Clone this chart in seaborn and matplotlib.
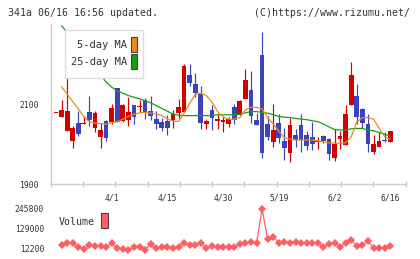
import numpy as np
import pandas as pd
import matplotlib
matplotlib.use("Agg")
import matplotlib.pyplot as plt
import seaborn as sns
from matplotlib.patches import Rectangle

# ---------------- data ----------------
opens = [2077, 2068, 2033, 2008, 2052, 2049, 2080, 2041, 2018, 2057,
         2056, 2140, 2057, 2060, 2097, 2092, 2110, 2082, 2062, 2055,
         2057, 2060, 2078, 2081, 2172, 2149, 2125, 2049, 2084, 2058,
         2056, 2051, 2092, 2074, 2112, 2135, 2060, 2222, 2050, 2006,
         2052, 2007, 1978, 2022, 2047, 2022, 2018, 2004, 2020, 2012,
         1966, 2012, 1997, 2097, 2120, 2087, 2050, 1981, 1993, 2008,
         2006]
closes = [2077, 2085, 2083, 2040, 2025, 2051, 2060, 2077, 2035, 2016,
          2090, 2056, 2097, 2079, 2068, 2093, 2077, 2071, 2049, 2039,
          2040, 2074, 2093, 2196, 2152, 2127, 2053, 2057, 2066, 2062,
          2059, 2062, 2061, 2107, 2160, 2069, 2048, 1978, 2018, 2035,
          2016, 1991, 2047, 2010, 2010, 1996, 2000, 2008, 2007, 1975,
          2000, 2020, 2075, 2172, 2068, 2053, 2000, 2000, 2007, 2007,
          2033]
highs = [2077, 2110, 2181, 2044, 2083, 2070, 2120, 2083, 2053, 2061,
         2100, 2141, 2101, 2118, 2098, 2110, 2114, 2121, 2083, 2064,
         2072, 2085, 2112, 2200, 2199, 2178, 2145, 2063, 2097, 2074,
         2068, 2068, 2099, 2110, 2188, 2182, 2077, 2281, 2071, 2099,
         2074, 2039, 2066, 2037, 2074, 2032, 2056, 2018, 2022, 2014,
         2037, 2032, 2097, 2206, 2149, 2089, 2074, 2022, 2031, 2029,
         2033]
lows = [2077, 2067, 2032, 1991, 2021, 2049, 2046, 2030, 1991, 2008,
        2050, 2055, 2056, 2046, 2049, 2081, 2062, 2061, 2037, 2032,
        2022, 2041, 2065, 2081, 2146, 2117, 2038, 2038, 2034, 2038,
        2031, 2043, 2051, 2073, 2112, 2053, 2047, 1966, 2010, 1993,
        2002, 1960, 1956, 1993, 1981, 1985, 1985, 1988, 2002, 1960,
        1957, 1988, 1997, 2097, 2049, 2039, 1981, 1975, 1993, 2004,
        2004]
ma5 = [np.nan, 2143, 2125, 2106, 2088, 2068, 2056, 2052, 2051, 2050,
       2053, 2056, 2062, 2069, 2074, 2078, 2079, 2077, 2075, 2071,
       2063, 2057, 2056, 2077, 2102, 2124, 2127, 2121, 2105, 2081,
       2068, 2062, 2062, 2066, 2085, 2092, 2092, 2088, 2066, 2050,
       2032, 2016, 2012, 2010, 2010, 2010, 2010, 2008, 2005, 2003,
       2002, 2002, 2003, 2018, 2055, 2066, 2066, 2062, 2040, 2018,
       2012]
ma25 = [np.nan, 2296, 2278, 2260, 2242, 2224, 2206, 2189, 2172, 2155,
        2142, 2133, 2127, 2121, 2117, 2113, 2108, 2103, 2096, 2089,
        2082, 2075, 2072, 2071, 2071, 2071, 2071, 2071, 2071, 2073,
        2073, 2073, 2073, 2074, 2078, 2081, 2081, 2079, 2077, 2073,
        2069, 2067, 2066, 2064, 2062, 2061, 2058, 2056, 2050, 2043,
        2036, 2035, 2035, 2038, 2039, 2039, 2035, 2033, 2029, 2024,
        2020]
volume = [35500, 45500, 45500, 22100, 12200, 35500, 29700, 29700, 22100, 45500,
          16300, 12200, 8000, 22100, 22100, 8000, 41400, 16300, 22100, 22100,
          16300, 25600, 45500, 35500, 35500, 49000, 16300, 30000, 22100, 22100,
          25600, 25600, 39600, 45500, 55000, 45500, 245800, 70600, 84000, 49000,
          52000, 49000, 55000, 45500, 45500, 49000, 45500, 25600, 39600, 49000,
          25600, 45500, 64800, 30000, 35500, 60700, 16300, 16300, 16300, 30000]
date_labels = ["4/1", "4/15", "4/30", "5/19", "6/2", "6/16"]
date_label_idx = [10, 20, 30, 40, 50, 60]
price_ticks = [1900, 2100]
volume_ticks = [12200, 129000, 245800]

# ---------------- style ----------------
sns.set_style("white")
plt.rcParams['font.family'] = ['DejaVu Sans Mono']
TXT = '#333333'
AXC = '#cccccc'
RED = '#d40000'
BLUE = '#3c44bc'
ORANGE = '#f08a14'
GREEN = '#14a014'
VOLC = '#ff5f62'

W, H = 420, 259
fig = plt.figure(figsize=(W / 100, H / 100), dpi=100)
fig.patch.set_facecolor('white')


def fx(x):
    return x / W


def fy(y):
    return 1 - y / H


ax = fig.add_axes([fx(50.7), fy(184), fx(405.7) - fx(50.7), fy(24) - fy(184)])
axv = fig.add_axes([fx(50.7), fy(253), fx(405.7) - fx(50.7), fy(205) - fy(253)])

n = len(opens)
idx = np.arange(n)
df = pd.DataFrame({"i": idx, "open": opens, "close": closes,
                   "high": highs, "low": lows, "ma5": ma5, "ma25": ma25})
up = df["close"] >= df["open"]
colors = np.where(up, RED, BLUE)

# wicks
ax.vlines(df["i"], df["low"], df["high"], colors=colors, linewidth=0.85, zorder=2)
# bodies
body_bottom = np.minimum(df["open"], df["close"])
body_h = np.maximum(np.abs(df["close"] - df["open"]), 3.0)
ax.bar(df["i"], body_h, bottom=body_bottom, width=0.85, color=colors,
       linewidth=0, zorder=3)

# moving averages
sns.lineplot(data=df, x="i", y="ma25", ax=ax, color=GREEN, linewidth=0.9,
             estimator=None, zorder=4)
sns.lineplot(data=df, x="i", y="ma5", ax=ax, color=ORANGE, linewidth=0.9,
             estimator=None, zorder=5)

ax.set_xlim(-0.95, 62.78)
ax.set_ylim(1900, 2300)
ax.set_xlabel("")
ax.set_ylabel("")
for s in ["top", "right"]:
    ax.spines[s].set_visible(False)
for s in ["left", "bottom"]:
    ax.spines[s].set_color(AXC)
    ax.spines[s].set_linewidth(1.0)

ax.set_xticks(np.linspace(-0.95, 62.78, 12))
ax.set_xticklabels([])
ax.set_xticks(date_label_idx, minor=True)
ax.set_xticklabels(date_labels, minor=True)
ax.set_yticks(price_ticks)
ax.set_yticklabels([str(v) for v in price_ticks])
ax.tick_params(axis='both', which='major', direction='inout', length=5,
               width=1.0, color=AXC, labelsize=5.8, labelcolor=TXT)
ax.tick_params(axis='y', which='major', pad=6)
ax.tick_params(axis='x', which='minor', length=0, pad=6.5, labelsize=5.8,
               labelcolor=TXT)
ax.tick_params(axis='x', which='major', bottom=True)

# volume panel
vdf = pd.DataFrame({"i": idx[1:], "volume": volume})
sns.lineplot(data=vdf, x="i", y="volume", ax=axv, color=VOLC, linewidth=0.9,
             marker='D', markersize=4.2, markeredgewidth=0, estimator=None)
axv.set_xlim(-0.95, 62.78)
axv.set_ylim(12200 - 4 * 5840, 245800 + 4 * 5840)
axv.set_xlabel("")
axv.set_ylabel("")
for s in axv.spines.values():
    s.set_visible(False)
axv.set_xticks([])
axv.set_yticks(volume_ticks)
axv.set_yticklabels([str(v) for v in volume_ticks])
axv.tick_params(axis='y', length=0, pad=4.8, labelsize=5.8, labelcolor=TXT)
axv.patch.set_alpha(0)

# header texts
fig.text(fx(8.3), fy(13.3), "341a 06/16 16:56 updated.", ha='left', va='center',
         fontsize=7.1, color=TXT)
fig.text(fx(409.5), fy(13.3), "(C)https://www.rizumu.net/", ha='right',
         va='center', fontsize=7.1, color=TXT)

# price legend
fig.patches.append(Rectangle((fx(65), fy(77.7)), fx(143.3) - fx(65),
                             fy(30) - fy(77.7), transform=fig.transFigure,
                             facecolor='white', edgecolor='#dddddd', lw=1.0,
                             zorder=6))
fig.patches.append(Rectangle((fx(131), fy(52.3)), fx(137.3) - fx(131),
                             fy(37.3) - fy(52.3), transform=fig.transFigure,
                             facecolor=ORANGE, edgecolor='#444444', lw=0.8,
                             zorder=7))
fig.patches.append(Rectangle((fx(131), fy(69.3)), fx(137.3) - fx(131),
                             fy(54.3) - fy(69.3), transform=fig.transFigure,
                             facecolor=GREEN, edgecolor='#444444', lw=0.8,
                             zorder=7))
fig.text(fx(127.3), fy(45.5), "5-day MA", ha='right', va='center',
         fontsize=7.5, color=TXT, zorder=8)
fig.text(fx(127.3), fy(62), "25-day MA", ha='right', va='center',
         fontsize=7.5, color=TXT, zorder=8)

# volume legend
fig.text(fx(58.3), fy(222.3), "Volume", ha='left', va='center',
         fontsize=7.1, color=TXT)
fig.patches.append(Rectangle((fx(101), fy(228.3)), fx(107.7) - fx(101),
                             fy(213.3) - fy(228.3), transform=fig.transFigure,
                             facecolor=VOLC, edgecolor='#444444', lw=0.8,
                             zorder=7))

fig.savefig("out.png", dpi=100, facecolor='white')
